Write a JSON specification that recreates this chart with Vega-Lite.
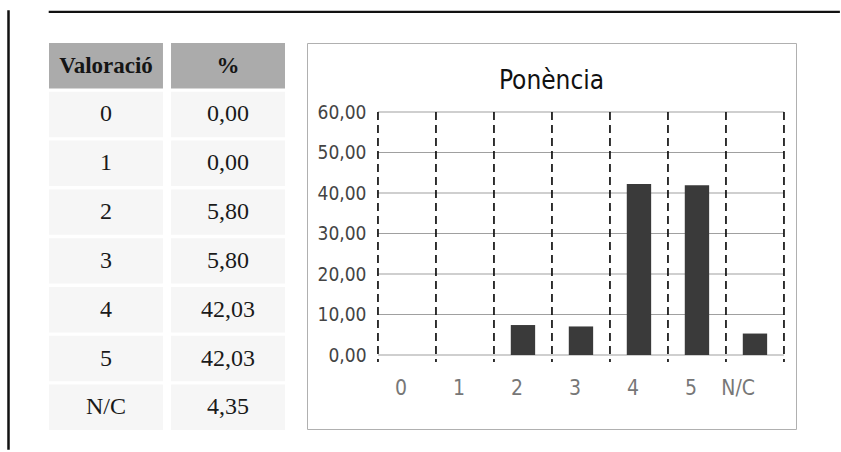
{
  "$schema": "https://vega.github.io/schema/vega-lite/v6.json",
  "background": "white",
  "padding": {"left": 7, "top": 10, "right": 0, "bottom": 0},
  "autosize": {"type": "pad"},
  "config": {
    "locale": {"number": {"decimal": ",", "thousands": ".", "grouping": [3], "currency": ["", " €"]}},
    "view": {"stroke": null}
  },
  "datasets": {
    "valors": [
      {"val": "0", "pct": 0.00, "barra": 0},
      {"val": "1", "pct": 0.00, "barra": 0},
      {"val": "2", "pct": 5.80, "barra": 7.4},
      {"val": "3", "pct": 5.80, "barra": 7.05},
      {"val": "4", "pct": 42.03, "barra": 42.2},
      {"val": "5", "pct": 42.03, "barra": 41.9},
      {"val": "N/C", "pct": 4.35, "barra": 5.3}
    ],
    "capcalera": [{"col": "Valoració"}, {"col": "%"}],
    "graella": [{"v": 0}, {"v": 10}, {"v": 20}, {"v": 30}, {"v": 40}, {"v": 50}, {"v": 60}]
  },
  "bounds": "flush",
  "spacing": 40,
  "hconcat": [
    {
      "width": 1,
      "height": 438,
      "view": {"stroke": "#111111", "strokeWidth": 1.5},
      "data": {"values": []},
      "mark": "point",
      "encoding": {}
    },
    {
      "bounds": "flush",
      "spacing": 31,
      "vconcat": [
        {
          "width": 790,
          "height": 1,
          "view": {"stroke": "#111111", "strokeWidth": 1.2},
          "data": {"values": []},
          "mark": "point",
          "encoding": {}
        },
        {
          "bounds": "flush",
          "spacing": 22,
          "hconcat": [
            {
              "width": 236,
              "height": 387,
              "layer": [
                {
                  "data": {"name": "capcalera"},
                  "mark": {"type": "rect", "fill": "#ababab"},
                  "encoding": {
                    "x": {"field": "col", "type": "nominal", "scale": {"domain": ["Valoració", "%"], "paddingInner": 0.066, "paddingOuter": 0}, "axis": null},
                    "y": {"datum": "H", "type": "nominal", "scale": {"domain": ["H", "0", "1", "2", "3", "4", "5", "N/C"], "paddingInner": 0.07, "paddingOuter": 0}, "axis": null}
                  }
                },
                {
                  "data": {"name": "capcalera"},
                  "mark": {"type": "text", "font": "Liberation Serif", "fontSize": 23, "fontWeight": "bold", "color": "#151515"},
                  "encoding": {
                    "x": {"field": "col", "type": "nominal"},
                    "y": {"datum": "H", "type": "nominal"},
                    "text": {"field": "col"}
                  }
                },
                {
                  "data": {"name": "valors"},
                  "mark": {"type": "rect", "fill": "#f6f6f6"},
                  "encoding": {
                    "x": {"datum": "Valoració", "type": "nominal"},
                    "y": {"field": "val", "type": "nominal"}
                  }
                },
                {
                  "data": {"name": "valors"},
                  "mark": {"type": "rect", "fill": "#f6f6f6"},
                  "encoding": {
                    "x": {"datum": "%", "type": "nominal"},
                    "y": {"field": "val", "type": "nominal"}
                  }
                },
                {
                  "data": {"name": "valors"},
                  "mark": {"type": "text", "font": "Liberation Serif", "fontSize": 24, "color": "#1a1a1a"},
                  "encoding": {
                    "x": {"datum": "Valoració", "type": "nominal"},
                    "y": {"field": "val", "type": "nominal"},
                    "text": {"field": "val"}
                  }
                },
                {
                  "data": {"name": "valors"},
                  "mark": {"type": "text", "font": "Liberation Serif", "fontSize": 24, "color": "#1a1a1a"},
                  "encoding": {
                    "x": {"datum": "%", "type": "nominal"},
                    "y": {"field": "val", "type": "nominal"},
                    "text": {"field": "pct", "type": "quantitative", "format": ".2f"}
                  }
                }
              ]
            },
            {
              "width": 489,
              "height": 386,
              "view": {"stroke": "#b0b0b0", "strokeWidth": 1},
              "title": {"text": "Ponència", "font": "DejaVu Sans Condensed, sans-serif", "fontSize": 26, "fontWeight": "normal", "color": "#111111", "offset": -77, "anchor": "middle", "frame": "group", "baseline": "bottom"},
              "layer": [
                {
                  "data": {"name": "graella"},
                  "mark": {"type": "rule", "color": "#a0a0a0", "strokeWidth": 1.2},
                  "encoding": {
                    "y": {"field": "v", "type": "quantitative",
                      "scale": {"domain": [-18.27, 77.04], "nice": false, "zero": false},
                      "axis": {"values": [0, 10, 20, 30, 40, 50, 60], "format": ".2f", "domain": false, "ticks": false, "grid": false, "offset": -71, "labelPadding": 12, "labelFont": "DejaVu Sans Condensed, sans-serif", "labelFontSize": 19, "labelColor": "#444444", "title": null}},
                    "x": {"datum": "0", "type": "nominal", "bandPosition": 0,
                      "scale": {"domain": ["0", "1", "2", "3", "4", "5", "N/C"], "paddingInner": 0, "paddingOuter": 0.7155, "align": 0.855}},
                    "x2": {"datum": "N/C", "bandPosition": 1}
                  }
                },
                {
                  "data": {"name": "valors"},
                  "mark": {"type": "rule", "color": "#111111", "strokeWidth": 1.7, "strokeDash": [8, 5]},
                  "encoding": {
                    "x": {"field": "val", "type": "nominal", "bandPosition": 0},
                    "y": {"datum": 60, "type": "quantitative"},
                    "y2": {"datum": -1.7}
                  }
                },
                {
                  "data": {"name": "valors"},
                  "transform": [{"filter": "datum.val == 'N/C'"}],
                  "mark": {"type": "rule", "color": "#111111", "strokeWidth": 1.7, "strokeDash": [8, 5]},
                  "encoding": {
                    "x": {"field": "val", "type": "nominal", "bandPosition": 1},
                    "y": {"datum": 60, "type": "quantitative"},
                    "y2": {"datum": -1.7}
                  }
                },
                {
                  "data": {"name": "valors"},
                  "mark": {"type": "bar", "color": "#3a3a3a", "width": {"band": 0.42}},
                  "encoding": {
                    "x": {"field": "val", "type": "nominal",
                      "axis": {"orient": "bottom", "offset": -74, "domain": false, "ticks": false, "labelPadding": 33, "labelAngle": 0, "labelFont": "DejaVu Sans Condensed, sans-serif", "labelFontSize": 21, "labelColor": "#777777", "title": null}},
                    "y": {"field": "barra", "type": "quantitative"},
                    "y2": {"datum": 0}
                  }
                }
              ]
            }
          ]
        }
      ]
    }
  ]
}
